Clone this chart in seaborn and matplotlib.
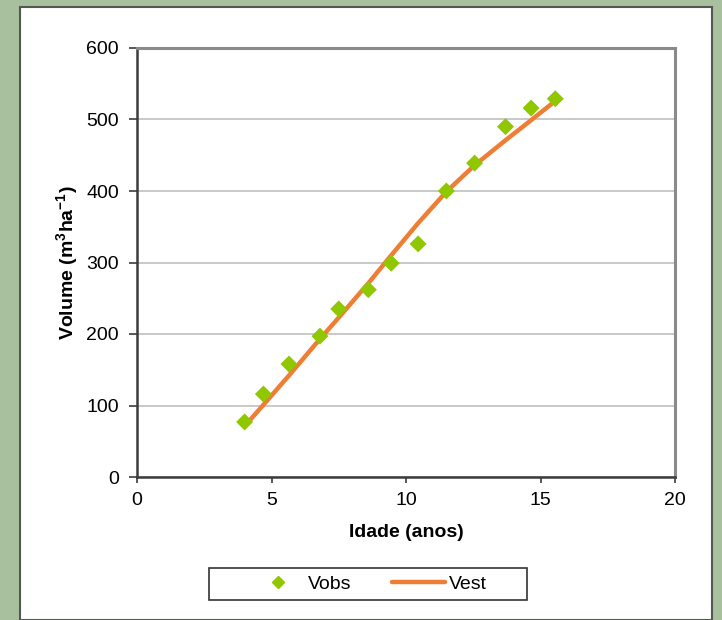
import matplotlib
matplotlib.use("Agg")
import matplotlib.pyplot as plt
from matplotlib.patches import Rectangle
from matplotlib.lines import Line2D
import seaborn as sns
import pandas as pd

# observed volume vs age
idade = [4.0, 4.7, 5.65, 6.8, 7.5, 8.6, 9.45, 10.45, 11.5, 12.55, 13.7, 14.65, 15.55]
vobs = [77, 116, 158, 197, 235, 262, 299, 326, 400, 439, 490, 516, 529]
# estimated volume (fitted curve)
vest = [71, 101, 142, 193, 223, 271, 310, 355, 399, 436, 471, 499, 526]

df = pd.DataFrame({"Idade": idade, "Vobs": vobs, "Vest": vest})

sns.set_style("white")
plt.rcParams["font.family"] = ["Liberation Sans", "DejaVu Sans"]
plt.rcParams["mathtext.fontset"] = "custom"
plt.rcParams["mathtext.rm"] = "Liberation Sans"
plt.rcParams["mathtext.bf"] = "Liberation Sans:bold"
plt.rcParams["text.color"] = "black"
plt.rcParams["axes.labelcolor"] = "black"

fig = plt.figure(figsize=(7.22, 6.2), dpi=100, facecolor="#a9c09f")
# white panel behind the chart
fig.patches.append(Rectangle((20 / 722, 0), 692 / 722, 613 / 620, transform=fig.transFigure,
                             facecolor="white", edgecolor="#505a50", linewidth=1.5, zorder=-10))

ax = fig.add_axes([137 / 722, 1 - 477 / 620, 538 / 722, 429 / 620])
ax.set_facecolor("white")

sns.lineplot(data=df, x="Idade", y="Vest", color="#ef7d33", linewidth=3.2, ax=ax,
             zorder=3, legend=False)
sns.scatterplot(data=df, x="Idade", y="Vobs", marker="D", color="#8fc800", s=75,
                edgecolor="none", ax=ax, zorder=4, legend=False)

ax.set_xlim(0, 20)
ax.set_ylim(0, 600)
ax.set_xticks([0, 5, 10, 15, 20])
ax.set_yticks(range(0, 601, 100))
ax.yaxis.grid(True, color="#c0c0c0", linewidth=1.2)
ax.set_axisbelow(True)

for s in ["left", "bottom"]:
    ax.spines[s].set_color("#3c3c3c")
    ax.spines[s].set_linewidth(1.8)
for s in ["top", "right"]:
    ax.spines[s].set_color("#8a8a8a")
    ax.spines[s].set_linewidth(2.2)

ax.tick_params(axis="y", direction="out", length=6, width=1.2, color="#3c3c3c",
               pad=7, labelsize=14, left=True, labelcolor="black")
ax.tick_params(axis="x", direction="out", length=4.5, width=1.2, color="#3c3c3c",
               pad=6, labelsize=14, bottom=True, labelcolor="black")

ax.set_xlabel("Idade (anos)", fontsize=14, fontweight="bold", labelpad=11)
ax.set_ylabel(r"Volume (m$^{\mathbf{3}}$ha$^{\mathbf{-1}}$)", fontsize=14,
              fontweight="bold", labelpad=4)

# legend box at the bottom
fig.patches.append(Rectangle((209 / 722, 1 - 600 / 620), 318 / 722, 32 / 620,
                             transform=fig.transFigure, facecolor="white",
                             edgecolor="#333333", linewidth=1.2, zorder=1))
handles = [Line2D([], [], marker="D", color="#8fc800", linestyle="none", markersize=6),
           Line2D([], [], color="#ef7d33", linewidth=3.2)]
fig.legend(handles, ["Vobs", "Vest"], loc="center", bbox_to_anchor=(369 / 722, 1 - 584 / 620),
           ncol=2, frameon=False, fontsize=14, handlelength=2.7, handletextpad=0.2,
           columnspacing=2.1)

fig.savefig("out.png", dpi=100, facecolor=fig.get_facecolor())
